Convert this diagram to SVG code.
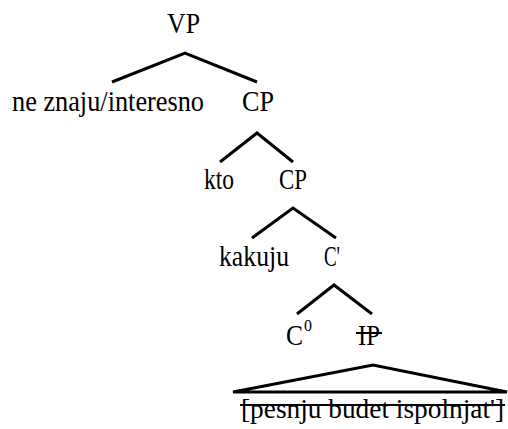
<svg xmlns="http://www.w3.org/2000/svg" width="508" height="429" viewBox="0 0 508 429">
  <style>
    text { font-family: "Liberation Serif", "Times New Roman", "DejaVu Serif", serif; font-size: 29px; fill: #000; }
    .edge { stroke: #000; stroke-width: 3; fill: none; stroke-linecap: butt; stroke-linejoin: miter; }
    .strike { stroke: #000; stroke-width: 2; }
  </style>
  <rect width="508" height="429" fill="#fff"/>

  <!-- branches -->
  <g id="connectors">
    <polyline class="edge" points="112,82 185,53 257,82"/>
    <polyline class="edge" points="220,162 257,133 293,162"/>
    <polyline class="edge" points="252,238 293,208 336,238"/>
    <polyline class="edge" points="297,314 334,285 372,314"/>
    <polygon class="edge" points="233,392 373,365 507,392"/>
  </g>

  <g id="vp">
    <text x="167" y="33" textLength="33" lengthAdjust="spacingAndGlyphs">VP</text>
  </g>
  <g id="ne-znaju">
    <text x="12" y="111" textLength="192" lengthAdjust="spacingAndGlyphs">ne znaju/interesno</text>
  </g>
  <g id="cp1">
    <text x="242" y="111" textLength="32" lengthAdjust="spacingAndGlyphs">CP</text>
  </g>
  <g id="kto">
    <text x="204" y="189" textLength="30" lengthAdjust="spacingAndGlyphs">kto</text>
  </g>
  <g id="cp2">
    <text x="279" y="189" textLength="28" lengthAdjust="spacingAndGlyphs">CP</text>
  </g>
  <g id="kakuju">
    <text x="219" y="266" textLength="70" lengthAdjust="spacingAndGlyphs">kakuju</text>
  </g>
  <g id="cbar">
    <text x="324" y="266" textLength="16" lengthAdjust="spacingAndGlyphs">C'</text>
  </g>
  <g id="c0">
    <text x="286" y="345" textLength="17" lengthAdjust="spacingAndGlyphs">C</text>
    <text x="304" y="331" style="font-size:17px" textLength="8" lengthAdjust="spacingAndGlyphs">0</text>
  </g>
  <g id="ip">
    <text x="358" y="345" textLength="22" lengthAdjust="spacingAndGlyphs">IP</text>
    <line class="strike" x1="356" y1="333" x2="382" y2="333"/>
  </g>
  <g id="ip-content">
    <text x="241" y="418" style="font-size:27px" textLength="263" lengthAdjust="spacingAndGlyphs">[pesnju budet ispolnjat']</text>
    <line class="strike" x1="240" y1="405" x2="505" y2="405"/>
  </g>
</svg>
